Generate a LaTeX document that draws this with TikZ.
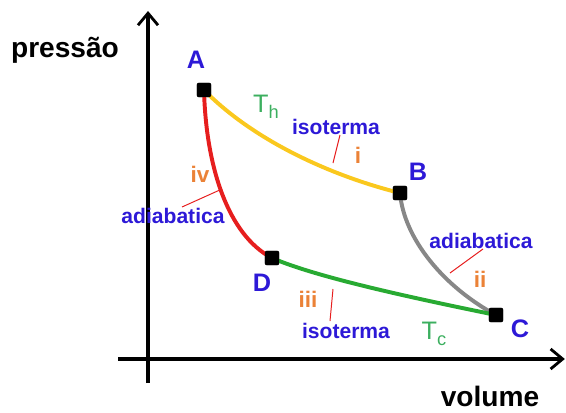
\documentclass[tikz,border=0pt]{standalone}
\usepackage{fontspec}
\setmainfont{Liberation Sans}
\usetikzlibrary{arrows.meta}

\definecolor{rotulo}{RGB}{45,25,215}
\definecolor{numeral}{RGB}{235,130,55}
\definecolor{temp}{RGB}{60,175,95}
\definecolor{quente}{RGB}{250,200,30}
\definecolor{adiab}{RGB}{230,30,30}
\definecolor{cinza}{RGB}{135,135,135}
\definecolor{fria}{RGB}{40,170,50}

\begin{document}
\begin{tikzpicture}[>={Straight Barb[length=3mm,width=5mm,line width=2pt]},
    eixo/.style={line width=2.2pt, black},
    estado/.style={rectangle, rounded corners=1.5pt, fill=black, inner sep=0pt, minimum size=0.36cm},
    letra/.style={text=rotulo, font=\bfseries\fontsize{18}{20}\selectfont},
    nome/.style={text=rotulo, font=\bfseries\fontsize{15}{17}\selectfont},
    fase/.style={text=numeral, font=\bfseries\fontsize{16}{18}\selectfont},
    tval/.style={text=temp, font=\fontsize{18}{20}\selectfont},
    curva/.style={line width=2.8pt},
    marca/.style={adiab, line width=0.7pt}]
    \useasboundingbox (-3.7,-1.325) rectangle (10.45,8.975);

    % eixos
    \coordinate (yb) at (0,-0.6);
    \coordinate (yt) at (0,8.7);
    \coordinate (xl) at (-0.75,0);
    \coordinate (xr) at (10.42,0);
    \draw[eixo, ->] (yb) -- (yt);
    \draw[eixo, ->] (xl) -- (xr);
    \node[font=\bfseries\fontsize{20}{22}\selectfont] (pres) at (-2.075,7.725) {pressão};
    \node[font=\bfseries\fontsize{20}{22}\selectfont] (vol) at (8.55,-0.93) {volume};

    % estados
    \node[estado] (pA) at (1.4,6.725) {};
    \node[estado] (pB) at (6.3,4.15) {};
    \node[estado] (pC) at (8.7,1.1) {};
    \node[estado] (pD) at (3.1,2.525) {};

    % ciclo
    \draw[curva, quente] (pA.center) .. controls (2.6,5.5) and (4.5,4.6) .. (pB.center);
    \draw[curva, cinza] (pB.center) .. controls (6.4,3.0) and (7.4,1.8) .. (pC.center);
    \draw[curva, fria] (pD.center) .. controls (4.2,2.05) and (6.5,1.55) .. (pC.center);
    \draw[curva, adiab] (pA.center) .. controls (1.45,4.8) and (2.0,3.1) .. (pD.center);
    \foreach \p in {pA,pB,pC,pD}
        \node[estado] at (\p) {};

    \node[letra] (lA) at (1.2,7.475) {A};
    \node[letra] (lB) at (6.75,4.675) {B};
    \node[letra] (lC) at (9.3,0.75) {C};
    \node[letra] (lD) at (2.85,1.9) {D};

    \node[tval] (th) at (2.95,6.3) {T\raisebox{-0.45ex}{\fontsize{13}{13}\selectfont h}};
    \node[tval] (tc) at (7.15,0.62) {T\raisebox{-0.45ex}{\fontsize{13}{13}\selectfont c}};

    % rotulos
    \node[nome] (iso1) at (4.7,5.8) {isoterma};
    \node[nome] (iso2) at (4.95,0.7) {isoterma};
    \node[nome] (ad1) at (0.625,3.575) {adiabatica};
    \node[nome] (ad2) at (8.325,2.95) {adiabatica};

    \node[fase] (fi) at (5.25,5.1) {i};
    \node[fase] (fii) at (8.3,2.0) {ii};
    \node[fase] (fiii) at (4.0,1.5) {iii};
    \node[fase] (fiv) at (1.3,4.625) {iv};

    \coordinate (m1a) at (4.625,4.9);
    \coordinate (m1b) at (4.8,5.6);
    \coordinate (m2a) at (7.55,2.15);
    \coordinate (m2b) at (8.375,2.75);
    \coordinate (m3a) at (4.55,0.95);
    \coordinate (m3b) at (4.625,1.75);
    \coordinate (m4a) at (0.85,3.8);
    \coordinate (m4b) at (1.85,4.25);
    \draw[marca] (m1a) -- (m1b);
    \draw[marca] (m2a) -- (m2b);
    \draw[marca] (m3a) -- (m3b);
    \draw[marca] (m4a) -- (m4b);
\end{tikzpicture}
\end{document}
